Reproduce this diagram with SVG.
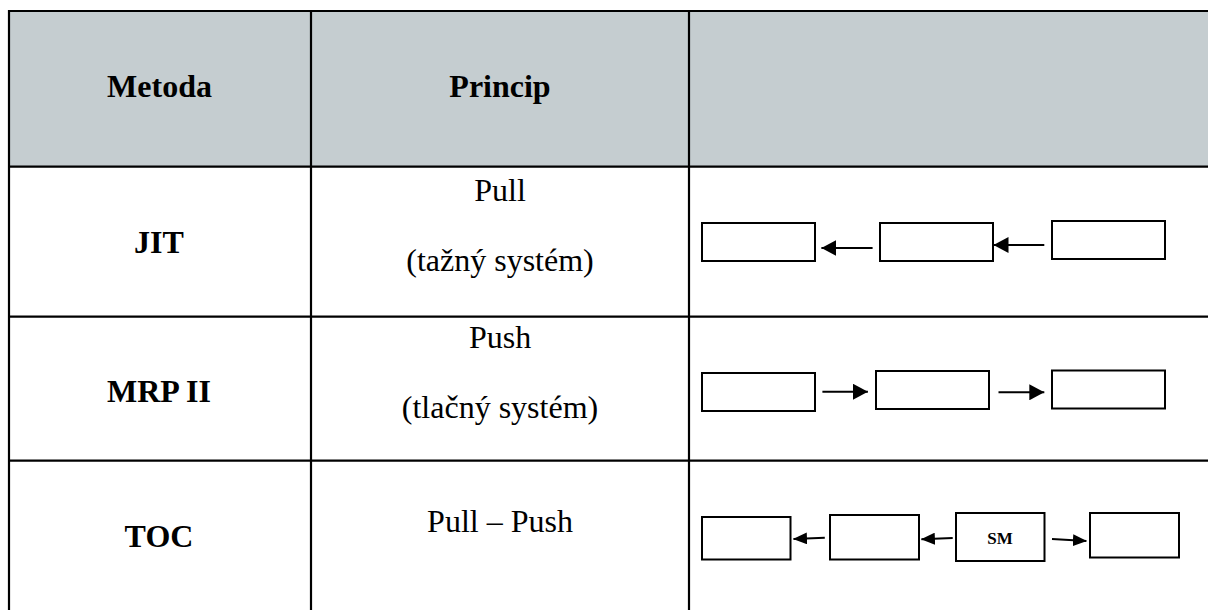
<svg xmlns="http://www.w3.org/2000/svg" width="1208" height="610" viewBox="0 0 1208 610">
<style>
.hd{font-family:'Liberation Serif','DejaVu Serif',serif;font-weight:bold;font-size:32px;fill:#000;text-anchor:middle}
.tx{font-family:'Liberation Serif','DejaVu Serif',serif;font-size:32px;fill:#000;text-anchor:middle}
.sm{font-family:'Liberation Serif','DejaVu Serif',serif;font-weight:bold;font-size:17px;fill:#000;text-anchor:middle}
.grid{stroke:#000;stroke-width:2.2;fill:none}
.box{fill:#fff;stroke:#000;stroke-width:2}
.con{stroke:#000;stroke-width:2;fill:none;marker-end:url(#ah)}
.con2{stroke:#000;stroke-width:2;fill:none;marker-end:url(#ah2)}
</style>
<defs>
<marker id="ah" markerUnits="userSpaceOnUse" viewBox="0 0 16 16" markerWidth="16" markerHeight="16" refX="15" refY="8" orient="auto">
<path d="M0,0 L15,8 L0,16 z" fill="#000"/>
</marker>
<marker id="ah2" markerUnits="userSpaceOnUse" viewBox="0 0 14 12" markerWidth="14" markerHeight="12" refX="13.5" refY="6" orient="auto">
<path d="M0,0 L14,6 L0,12 z" fill="#000"/>
</marker>
</defs>
<rect x="0" y="0" width="1208" height="610" fill="#fff"/>
<g id="table">
<rect x="9" y="11" width="1199" height="156" fill="#c5cdd0"/>
<line class="grid" x1="8" y1="11" x2="1208" y2="11"/>
<line class="grid" x1="8" y1="166.7" x2="1208" y2="166.7"/>
<line class="grid" x1="8" y1="316.7" x2="1208" y2="316.7"/>
<line class="grid" x1="8" y1="460.7" x2="1208" y2="460.7"/>
<line class="grid" x1="9" y1="10" x2="9" y2="610"/>
<line class="grid" x1="311" y1="10" x2="311" y2="610"/>
<line class="grid" x1="689" y1="10" x2="689" y2="610"/>
</g>
<g id="header">
<text class="hd" x="159.5" y="96.7">Metoda</text>
<text class="hd" x="500" y="96.7">Princip</text>
</g>
<g id="row-jit">
<text class="hd" x="159" y="252.7">JIT</text>
<text class="tx" x="500" y="200.7">Pull</text>
<text class="tx" x="500" y="270.7">(tažný systém)</text>
</g>
<g id="row-mrp">
<text class="hd" x="159" y="401.7">MRP II</text>
<text class="tx" x="500" y="347.7">Push</text>
<text class="tx" x="500" y="418.3">(tlačný systém)</text>
</g>
<g id="row-toc">
<text class="hd" x="159" y="546.7">TOC</text>
<text class="tx" x="500" y="532.3">Pull – Push</text>
</g>
<g id="jit-b1"><rect class="box" x="702" y="223" width="113" height="38"/></g>
<g id="jit-b2"><rect class="box" x="880" y="223" width="113" height="38"/></g>
<g id="jit-b3"><rect class="box" x="1052" y="221" width="113" height="38"/></g>
<g id="mrp-b1"><rect class="box" x="702" y="373" width="113" height="38"/></g>
<g id="mrp-b2"><rect class="box" x="876" y="371" width="113" height="38"/></g>
<g id="mrp-b3"><rect class="box" x="1052" y="370.5" width="113" height="38"/></g>
<g id="toc-b1"><rect class="box" x="702" y="517" width="88.5" height="42.5"/></g>
<g id="toc-b2"><rect class="box" x="830" y="515" width="89" height="44.5"/></g>
<g id="toc-sm"><rect class="box" x="956" y="513" width="88.5" height="48"/><text class="sm" x="1000" y="544">SM</text></g>
<g id="toc-b4"><rect class="box" x="1090" y="513" width="89" height="44.5"/></g>
<g id="connectors">
<line class="con" x1="872.6" y1="248" x2="821.4" y2="248"/>
<line class="con" x1="1044.3" y1="245" x2="993.5" y2="245"/>
<line class="con" x1="822.4" y1="391.7" x2="867.9" y2="391.7"/>
<line class="con" x1="998.5" y1="392.3" x2="1044.3" y2="392.3"/>
<line class="con2" x1="824.8" y1="537.7" x2="793.5" y2="539"/>
<line class="con2" x1="952.7" y1="538" x2="921.4" y2="539.2"/>
<line class="con2" x1="1052" y1="539" x2="1086.4" y2="541"/>
</g>
</svg>
